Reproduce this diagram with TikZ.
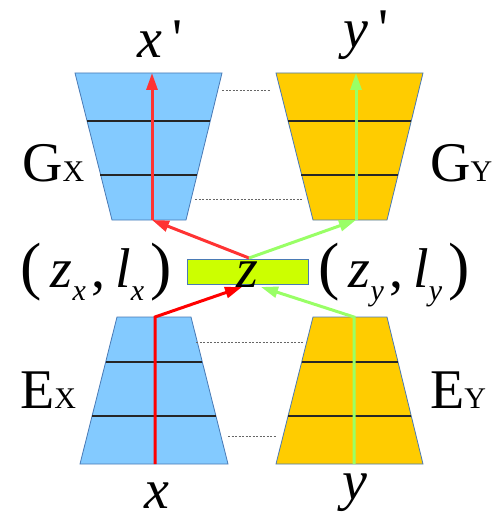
\documentclass[tikz,border=0pt]{standalone}
\usepackage{fontspec}
\setmainfont{Liberation Serif}
\usepackage{tikz}
\usetikzlibrary{arrows.meta}
\usetikzlibrary{positioning}
\usepackage{xcolor}
\definecolor{netblue}{HTML}{83CAFF}
\definecolor{netorange}{HTML}{FFCC00}
\definecolor{netedge}{HTML}{4A7AB5}
\definecolor{codegreen}{HTML}{CCFF00}
\definecolor{redup}{HTML}{FF3333}
\definecolor{reddown}{HTML}{FF0000}
\definecolor{grn}{HTML}{99FF66}
\newcommand{\lo}[1]{\raisebox{-13pt}{\fontsize{30}{32}\selectfont\itshape #1}\hspace{6pt}}
\newcommand{\cp}[1]{{\fontsize{30}{32}\selectfont #1}}
\newcommand{\bp}[1]{{\fontsize{64}{66}\selectfont #1}}

\begin{document}
\begin{tikzpicture}[x=1pt,y=-1pt,
  lbl/.style={font=\fontsize{56}{60}\selectfont,inner sep=0pt},
  blk/.style={draw=netedge,line width=.8pt},
  layer/.style={draw=black!85,line width=1.1pt},
  dots/.style={draw=black!60,line width=1pt,dash pattern=on 2pt off 1.5pt},
  flow/.style={line width=3pt,-{Triangle[length=17pt,width=11pt]}}]
\useasboundingbox (0,0) rectangle (497,524);
% decoder blocks
\draw[blk,fill=netblue] (75,73)--(222,73)--(186,220)--(112,220)--cycle;
\draw[layer] (87,121)--(210,121);
\draw[layer] (100,175)--(197,175);
\draw[blk,fill=netorange] (276,73)--(423,73)--(387,220)--(313,220)--cycle;
\draw[layer] (288,121)--(411,121);
\draw[layer] (301,175)--(398,175);
% encoder blocks
\draw[blk,fill=netblue] (117,317)--(191,317)--(228,464)--(80,464)--cycle;
\draw[layer] (106,362)--(202,362);
\draw[layer] (92,416)--(216,416);
\draw[blk,fill=netorange] (313,317)--(387,317)--(423,464)--(276,464)--cycle;
\draw[layer] (302,362)--(398,362);
\draw[layer] (288,416)--(411,416);
\draw[dots] (222,91)--(270,91);
\draw[dots] (195,199)--(302,199);
\draw[dots] (196,342)--(304,342);
\draw[dots] (228,436)--(276,436);
\node[blk,fill=codegreen,minimum width=121pt,minimum height=25pt,inner sep=0pt] (zbox) at (247.5,271.5) {};
\node[lbl,anchor=base] (z) at (247,287) {\textit{z}};
\coordinate (gxbot) at (152,220);
\coordinate (gxtop) at (152,73);
\coordinate (exbot) at (155,464);
\coordinate (extop) at (155,317);
\coordinate (gybot) at (356,220);
\coordinate (gytop) at (356,73);
\coordinate (eybot) at (354,464);
\coordinate (eytop) at (354,317);
\coordinate (zin) at (242,287);
\coordinate (zout) at (249,258);
\coordinate (zin2) at (261,287);
\draw[flow,reddown] (exbot)--(extop)--(zin);
\draw[flow,redup] (gxbot)--(gxtop);
\draw[flow,redup] (zout)--(gxbot);
\draw[flow,grn] (eybot)--(eytop)--(zin2);
\draw[flow,grn] (gybot)--(gytop);
\draw[flow,grn] (zout)--(gybot);
\node[lbl,anchor=base] (xrec) at (160,58) {\textit{x}\,\textquotesingle};
\node[lbl,anchor=base] (yrec) at (366,48) {\textit{y}\,\textquotesingle};
\node[lbl,anchor=base] (xin) at (157,508) {\textit{x}};
\node[lbl,anchor=base] (yin) at (355,499) {\textit{y}};
\node[lbl,anchor=base west] (gx) at (22,181) {G\cp{X}};
\node[lbl,anchor=base west] (gy) at (430,181) {G\cp{Y}};
\node[lbl,anchor=base west] (ex) at (20,408) {E\cp{X}};
\node[lbl,anchor=base west] (ey) at (430,408) {E\cp{Y}};
\node[lbl,anchor=base west] (zlx) at (20,287) {\bp{(}\,\textit{z}\lo{x},\,\textit{l}\lo{x}\bp{)}};
\node[lbl,anchor=base west] (zly) at (318,287) {\bp{(}\,\textit{z}\lo{y},\,\textit{l}\lo{y}\bp{)}};
\end{tikzpicture}
\end{document}
